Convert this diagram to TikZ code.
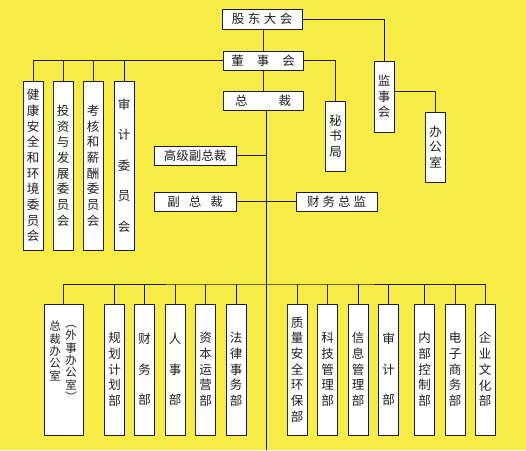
\documentclass[tikz,border=0pt]{standalone}
\usepackage{fontspec}
\newfontfamily\cjk{Noto Sans CJK SC}
\definecolor{fondo}{HTML}{F7EB46}
\definecolor{linea}{HTML}{1E1E1E}
\tikzset{
  hbox/.style={draw=linea,fill=white,minimum width=80pt,minimum height=19pt,inner sep=0pt,font=\cjk\fontsize{12.5}{15}\selectfont},
  vbox/.style={draw=linea,fill=white,minimum width=20pt,inner sep=0pt,align=center,font=\cjk\fontsize{12.5}{15.7}\selectfont},
  vboxsp/.style={vbox,font=\cjk\fontsize{12.5}{30.5}\selectfont},
  comite/.style={vbox,minimum height=169pt},
  comitesp/.style={vboxsp,minimum height=169pt},
  depto/.style={vbox,minimum height=131pt},
  deptosp/.style={vboxsp,minimum height=131pt},
  pila/.style={inner sep=0pt,align=center,font=\cjk\fontsize{11.5}{12.4}\selectfont}
}
\begin{document}
\begin{tikzpicture}[x=1pt,y=-1pt,line width=1pt,color=linea]
\fill[fondo] (0,0) rectangle (526,450);
% cupula
\node[hbox,minimum height=20pt] (gudong) at (262,19) {股\hspace{3.5pt}东\hspace{3.5pt}大\hspace{3.5pt}会};
\node[hbox] (dongshi) at (263,60.5) {董\hspace{13pt}事\hspace{13pt}会};
\node[hbox] (zongcai) at (263,100.5) {总\hspace{31pt}裁};
\node[vbox,minimum height=71pt] (jianshi) at (384,96.5) {监\\事\\会};
\node[vbox,minimum height=70pt] (mishu) at (335.5,136) {秘\\书\\局};
\node[vbox,minimum height=70pt] (bangong) at (435.5,147) {办\\公\\室};
% comites del consejo
\node[comite] (jiankang) at (33,165.5) {健\\康\\安\\全\\和\\环\\境\\委\\员\\会};
\node[comite] (touzi) at (63,165.5) {投\\资\\与\\发\\展\\委\\员\\会};
\node[comite] (kaohe) at (93,165.5) {考\\核\\和\\薪\\酬\\委\\员\\会};
\node[comitesp] (shenji) at (124,165.5) {审\\计\\委\\员\\会};
% direccion
\node[hbox,minimum width=82pt] (gaoji) at (195,155.5) {高级副总裁};
\node[hbox,minimum width=82pt] (fuzong) at (195,201.5) {副\hspace{9pt}总\hspace{9pt}裁};
\node[hbox,minimum width=81pt] (caiwuzj) at (336.5,201.5) {财\hspace{3pt}务\hspace{3pt}总\hspace{3pt}监};
% departamentos
\node[depto,minimum width=39pt] (zcb) at (63.5,369.5) {};
\node[pila] (zcb-a) at (55,351) {总\\裁\\办\\公\\室};
\node[pila] (zcb-b) at (71,363.5) {︵\\外\\事\\办\\公\\室\\︶};
\node[depto] (guihua) at (114.5,369.5) {规\\划\\计\\划\\部};
\node[deptosp] (caiwu) at (144.5,369.5) {财\\务\\部};
\node[deptosp] (renshi) at (175,369.5) {人\\事\\部};
\node[depto] (ziben) at (205.5,369.5) {资\\本\\运\\营\\部};
\node[depto] (falv) at (236,369.5) {法\\律\\事\\务\\部};
\node[depto] (zhiliang) at (297,369.5) {质\\量\\安\\全\\环\\保\\部};
\node[depto] (keji) at (327.5,369.5) {科\\技\\管\\理\\部};
\node[depto] (xinxi) at (358,369.5) {信\\息\\管\\理\\部};
\node[deptosp] (shenjib) at (388.5,369.5) {审\\计\\部};
\node[depto] (neibu) at (424.5,369.5) {内\\部\\控\\制\\部};
\node[depto] (dianzi) at (455,369.5) {电\\子\\商\\务\\部};
\node[depto] (qiye) at (485,369.5) {企\\业\\文\\化\\部};
% enlaces
\draw (gudong.south -| dongshi) -- (dongshi.north);
\draw (gudong.east) -| (jianshi.north);
\draw (dongshi.west) -| (jiankang.north);
\draw (touzi.north) -- (touzi.north |- dongshi.west);
\draw (kaohe.north) -- (kaohe.north |- dongshi.west);
\draw (shenji.north) -- (shenji.north |- dongshi.west);
\draw (dongshi.east) -| (mishu.north);
\draw (dongshi) -- (zongcai);
\draw ([yshift=5.5pt]jianshi.east) -| (bangong.north);
\coordinate (tronco) at (266,450);
\coordinate (barra) at (266,284);
\draw (zongcai.south -| tronco) -- (tronco);
\draw (gaoji.east) -- (gaoji.east -| tronco);
\draw (fuzong.east) -- (fuzong.east -| tronco);
\draw (caiwuzj.west) -- (caiwuzj.west -| tronco);
\draw (zcb.north) |- (barra) -| (qiye.north);
\draw (guihua.north) -- (guihua.north |- barra);
\draw (caiwu.north) -- (caiwu.north |- barra);
\draw (renshi.north) -- (renshi.north |- barra);
\draw (ziben.north) -- (ziben.north |- barra);
\draw (falv.north) -- (falv.north |- barra);
\draw (zhiliang.north) -- (zhiliang.north |- barra);
\draw (keji.north) -- (keji.north |- barra);
\draw (xinxi.north) -- (xinxi.north |- barra);
\draw (shenjib.north) -- (shenjib.north |- barra);
\draw (neibu.north) -- (neibu.north |- barra);
\draw (dianzi.north) -- (dianzi.north |- barra);
\end{tikzpicture}
\end{document}
